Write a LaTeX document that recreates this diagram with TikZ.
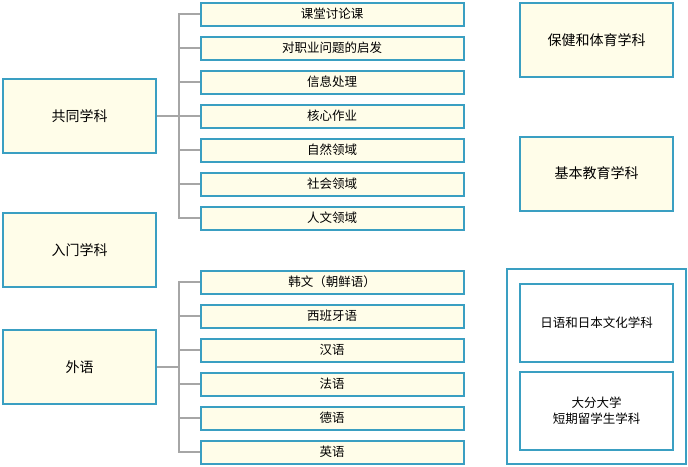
\documentclass[tikz,border=0pt]{standalone}
\usepackage{fontspec}
\setmainfont{Noto Sans CJK SC}
\usepackage{tikz}
\usetikzlibrary{trees,positioning}
\definecolor{boxblue}{HTML}{3A9FC2}
\definecolor{boxyellow}{HTML}{FFFDE9}
\definecolor{linegray}{HTML}{A6A6A6}

\begin{document}
\begin{tikzpicture}[x=1pt,y=-1pt]
\tikzstyle{mainbox}=[rectangle,draw=boxblue,line width=2pt,fill=boxyellow,minimum width=153pt,minimum height=74pt,font=\fontsize{14}{16}\selectfont]
\tikzstyle{subbox}=[rectangle,draw=boxblue,line width=2pt,fill=boxyellow,minimum width=263pt,minimum height=23pt,font=\fontsize{12.5}{14}\selectfont]
\tikzstyle{whitebox}=[mainbox,fill=white,minimum height=78pt,font=\fontsize{12.5}{16}\selectfont,align=center]
\tikzstyle{level 1}=[level distance=252.5pt,sibling distance=34pt]
\tikzstyle{forkline}=[grow'=right,edge from parent/.style={draw=linegray,line width=2pt},
  edge from parent path={(\tikzparentnode.east) -- +(22pt,0) |- (\tikzchildnode.west)}]

\useasboundingbox (0,0) rectangle (688,466);

% left column with its courses
\node[mainbox] (gongtong) at (79.5,116) {共同学科}
[forkline]
child{ node[subbox] (ketang) {课堂讨论课}}
child{ node[subbox] (zhiye) {对职业问题的启发}}
child{ node[subbox] (xinxi) {信息处理}}
child{ node[subbox] (hexin) {核心作业}}
child{ node[subbox] (ziran) {自然领域}}
child{ node[subbox] (shehui) {社会领域}}
child{ node[subbox] (renwen) {人文领域}};

\node[mainbox] (rumen) at (79.5,250) {入门学科};

\node[mainbox] (waiyu) at (79.5,367) {外语}
[forkline]
child{ node[subbox] (hanwen) {韩文（朝鲜语）}}
child{ node[subbox] (xibanya) {西班牙语}}
child{ node[subbox] (hanyu) {汉语}}
child{ node[subbox] (fayu) {法语}}
child{ node[subbox] (deyu) {德语}}
child{ node[subbox] (yingyu) {英语}};

% right column
\node[mainbox] (baojian) at (596.5,40) {保健和体育学科};
\node[mainbox] (jiben) at (596.5,173.5) {基本教育学科};

\draw[draw=boxblue,line width=2pt] (507,269) rectangle (686,464);
\node[whitebox] (riyu) at (596.5,323) {日语和日本文化学科};
\node[whitebox] (liuxue) at (596.5,411) {大分大学\\短期留学生学科};
\end{tikzpicture}
\end{document}
